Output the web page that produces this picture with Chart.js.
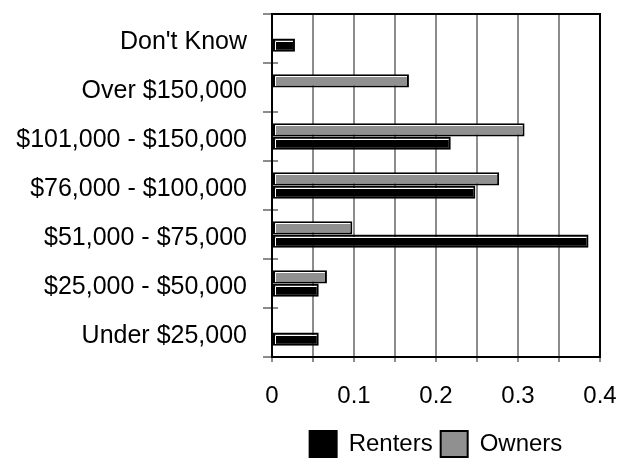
<!DOCTYPE html>
<html>
<head>
<meta charset="utf-8">
<script src="https://cdn.jsdelivr.net/npm/chart.js@4/dist/chart.umd.min.js"></script>
<style>
  html, body { margin: 0; padding: 0; background: #fff; }
  #wrap { width: 619px; height: 460px; }
</style>
</head>
<body>
<div id="wrap"><canvas id="myChart" width="619" height="460"></canvas></div>
<script>
var categories = ["Don't Know", 'Over $150,000', '$101,000 - $150,000', '$76,000 - $100,000',
                  '$51,000 - $75,000', '$25,000 - $50,000', 'Under $25,000'];
var renters = [0.028, 0, 0.218, 0.248, 0.386, 0.057, 0.057];
var owners  = [0, 0.167, 0.308, 0.277, 0.098, 0.067, 0];

var FONT = "'Liberation Sans', Arial, sans-serif";
var GREY = '#8c8c8c';

// black frame round the plot area, plus the short category ticks poking inside it
var frame = {
    id: 'frame',
    afterDatasetsDraw: function(chart) {
        var ctx = chart.ctx, a = chart.chartArea, ys = chart.scales.y;
        ctx.save();
        ctx.strokeStyle = GREY;
        ctx.lineWidth = 2;
        for (var i = 0; i <= categories.length; i++) {
            var py = Math.round(ys.getPixelForValue(i - 0.5));
            ctx.beginPath();
            ctx.moveTo(a.left, py);
            ctx.lineTo(a.left + 6, py);
            ctx.stroke();
        }
        ctx.strokeStyle = '#000';
        ctx.strokeRect(a.left, a.top, a.right - a.left, a.bottom - a.top);
        ctx.restore();
    }
};

// thin white bevel inside the top and left edge of each bar
var bevel = {
    id: 'bevel',
    afterDatasetsDraw: function(chart) {
        var ctx = chart.ctx;
        ctx.save();
        ctx.strokeStyle = '#fff';
        ctx.lineWidth = 1;
        chart.data.datasets.forEach(function(ds, di) {
            chart.getDatasetMeta(di).data.forEach(function(bar) {
                var p = bar.getProps(['x', 'y', 'base', 'height'], true);
                if (p.x - p.base < 4) return;
                var top = Math.round(p.y - p.height / 2) + 2.5;
                var bottom = Math.round(p.y + p.height / 2) - 2;
                var left = Math.round(p.base) + 2.5;
                ctx.beginPath();
                ctx.moveTo(left, bottom);
                ctx.lineTo(left, top);
                ctx.lineTo(p.x - 2, top);
                ctx.stroke();
            });
        });
        ctx.restore();
    }
};

window.onload = function() {
    var ctx = document.getElementById('myChart').getContext('2d');
    window.myBar = new Chart(ctx, {
        type: 'bar',
        data: {
            labels: categories,
            datasets: [
                {
                    label: 'Owners',
                    data: owners,
                    backgroundColor: '#909090',
                    borderColor: '#000',
                    borderWidth: 2,
                    borderSkipped: false,
                    barPercentage: 1.0,
                    categoryPercentage: 0.54
                },
                {
                    label: 'Renters',
                    data: renters,
                    backgroundColor: '#000',
                    borderColor: '#000',
                    borderWidth: 2,
                    borderSkipped: false,
                    barPercentage: 1.0,
                    categoryPercentage: 0.54
                }
            ]
        },
        options: {
            indexAxis: 'y',
            responsive: false,
            animation: false,
            layout: { padding: { top: 14, right: 19, left: 0, bottom: 0 } },
            scales: {
                x: {
                    min: 0,
                    max: 0.4,
                    afterFit: function(scale) {
                        scale.height = 66;
                        scale.paddingLeft = 0;
                        scale.paddingRight = 0;
                    },
                    ticks: {
                        stepSize: 0.05,
                        autoSkip: false,
                        maxRotation: 0,
                        padding: 20,
                        color: '#000',
                        font: { family: FONT, size: 24 },
                        callback: function(v) {
                            var h = Math.round(v * 100);
                            return h % 10 === 0 ? String(h / 100) : '';
                        }
                    },
                    grid: { color: GREY, lineWidth: 2, tickLength: 5, tickColor: GREY },
                    border: { color: '#000', width: 2 }
                },
                y: {
                    afterFit: function(scale) {
                        scale.width = 272;
                        scale.paddingTop = 0;
                        scale.paddingBottom = 0;
                    },
                    ticks: {
                        padding: 16,
                        labelOffset: 4,
                        color: '#000',
                        font: { family: FONT, size: 25 }
                    },
                    grid: { drawOnChartArea: false, tickLength: 9, color: GREY, lineWidth: 2 },
                    border: { color: '#000', width: 2 }
                }
            },
            plugins: {
                legend: {
                    position: 'bottom',
                    fullSize: false,
                    maxHeight: 37,
                    labels: {
                        boxWidth: 27,
                        boxHeight: 26,
                        padding: 8,
                        color: '#000',
                        font: { family: FONT, size: 24 },
                        sort: function(a, b) { return b.datasetIndex - a.datasetIndex; }
                    }
                },
                tooltip: { enabled: false }
            }
        },
        plugins: [bevel, frame]
    });
};
</script>
</body>
</html>
